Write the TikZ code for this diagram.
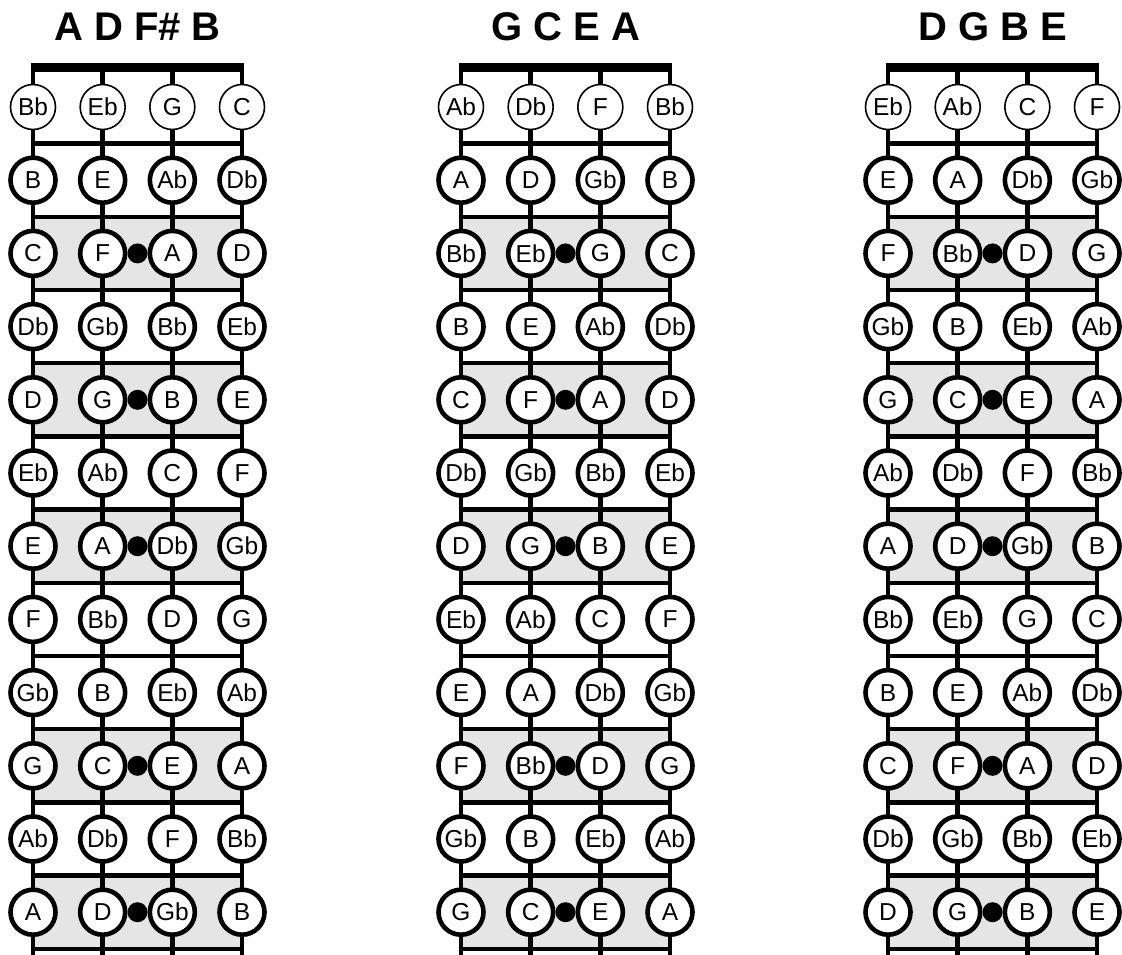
\documentclass[tikz,border=0pt]{standalone}
\usepackage{fontspec}
\setmainfont{Liberation Sans}
\usetikzlibrary{positioning,calc}
\definecolor{fretgray}{gray}{0.9}

\begin{document}
\begin{tikzpicture}[
      x=1pt, y=-1pt,
      note/.style={circle, draw, line width=4.6pt, fill=white,
                   minimum size=45pt, inner sep=0pt,
                   font=\fontsize{24.5}{24.5}\selectfont},
      marker/.style={circle, fill=black, minimum size=20pt, inner sep=0pt},
      title/.style={font=\fontsize{40}{40}\selectfont\bfseries},
      wire/.style={line width=4.4pt},
      nut/.style={line width=9pt}
    ]
    \useasboundingbox (0,0) rectangle (1122,955);
    \foreach \p/\tun/\px/\oa/\ob/\oc/\od in
        {1/{A D F\# B}/33/9/2/6/11, 2/{G C E A}/461/7/0/4/9, 3/{D G B E}/888/2/7/11/4}{
      % ---- tuning ----
      \node[title] (t\p) at (\px+104.5,27) {\tun};
      % ---- frets ----
      \foreach \f in {0,...,12}{
        \coordinate (l\p-\f) at (\px,70.4+73.2*\f);
        \coordinate (r\p-\f) at (\px+209,70.4+73.2*\f);
      }
      \foreach \f in {3,5,7,10,12}{
        \pgfmathtruncatemacro\g{\f-1}
        \fill[fretgray] (l\p-\g) rectangle (r\p-\f);
      }
      \foreach \f in {1,...,12}
        \draw[wire] (l\p-\f) -- (r\p-\f);
      % ---- strings ----
      \foreach \s in {1,...,4}{
        \coordinate (n\p-\s) at (\px+69.67*\s-69.67,67.5);
        \coordinate (b\p-\s) at (\px+69.67*\s-69.67,955);
        \draw[wire] (n\p-\s) -- (b\p-\s);
      }
      \draw[nut] ([xshift=-2pt]n\p-1) -- ([xshift=2pt]n\p-4);
      % ---- notes ----
      \foreach \s/\o in {1/\oa,2/\ob,3/\oc,4/\od}{
        \foreach \f in {1,...,12}{
          \pgfmathparse{{"C","Db","D","Eb","E","F","Gb","G","Ab","A","Bb","B"}[mod(\o+\f,12)]}
          \let\nm\pgfmathresult
          \pgfmathsetmacro\lw{\f==1 ? 1.6 : 4.6}
          \node[note, line width=\lw pt] (c\p-\s-\f)
            at (\px+69.67*\s-69.67,107+73.2*\f-73.2) {\nm};
        }
      }
      % ---- position dots ----
      \foreach \f in {3,5,7,10,12}
        \node[marker] (d\p-\f) at ($(c\p-2-\f)!0.5!(c\p-3-\f)$) {};
    }
  \end{tikzpicture}
\end{document}
